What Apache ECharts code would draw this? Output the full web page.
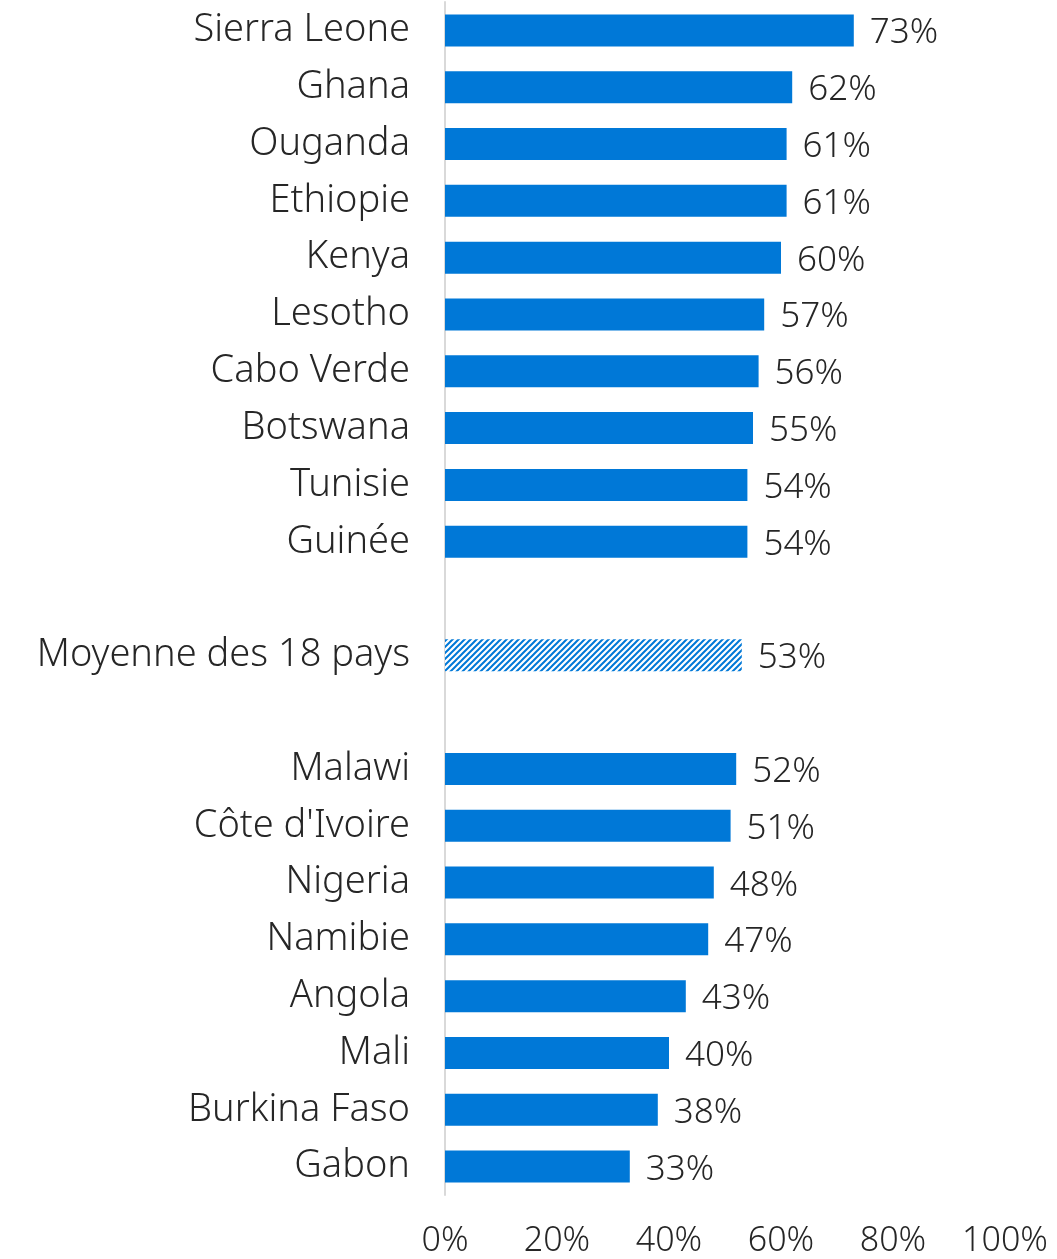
<!DOCTYPE html>
<html>
<head>
<meta charset="utf-8">
<script src="https://cdn.jsdelivr.net/npm/echarts@6/dist/echarts.min.js"></script>
<style>
  html, body { margin: 0; padding: 0; background: #fff; }
  #chart { width: 1057px; height: 1259px; }
</style>
</head>
<body>
<div id="chart"></div>
<script>
  // rows top to bottom; '' rows are the blank gaps around the average
  var countries = ['Sierra Leone', 'Ghana', 'Ouganda', 'Ethiopie', 'Kenya', 'Lesotho', 'Cabo Verde',
    'Botswana', 'Tunisie', 'Guinée', '', 'Moyenne des 18 pays', '', 'Malawi', "Côte d'Ivoire",
    'Nigeria', 'Namibie', 'Angola', 'Mali', 'Burkina Faso', 'Gabon'];
  var values = [73, 62, 61, 61, 60, 57, 56, 55, 54, 54, null, 53, null, 52, 51, 48, 47, 43, 40, 38, 33];
  var averageIndex = 11;
  var xTicks = [0, 20, 40, 60, 80, 100];

  var blue = '#0078d7';
  var textColor = '#262626';
  var fontFamily = 'Noto Sans';

  // diagonal stripe fill for the average bar
  function makeHatch() {
    var c = document.createElement('canvas');
    c.width = 6; c.height = 6;
    var ctx = c.getContext('2d');
    ctx.fillStyle = '#fff';
    ctx.fillRect(0, 0, 6, 6);
    ctx.strokeStyle = blue;
    ctx.lineWidth = 2;
    ctx.beginPath();
    ctx.moveTo(-1, 7); ctx.lineTo(7, -1);
    ctx.moveTo(-4, 4); ctx.lineTo(4, -4);
    ctx.moveTo(2, 10); ctx.lineTo(10, 2);
    ctx.stroke();
    return c;
  }
  var hatch = makeHatch();

  var barData = values.map(function (v, i) {
    if (v === null) return '-';
    if (i === averageIndex) {
      return { value: v, itemStyle: { color: { image: hatch, repeat: 'repeat' } } };
    }
    return v;
  });

  var chart = echarts.init(document.getElementById('chart'), null, { renderer: 'canvas' });
  chart.setOption({
    animation: false,
    grid: { left: 445, right: 52, top: 2, bottom: 64 },
    xAxis: {
      type: 'value',
      min: xTicks[0],
      max: xTicks[xTicks.length - 1],
      interval: 20,
      splitLine: { show: false },
      axisLine: { show: false },
      axisTick: { show: false },
      axisLabel: {
        formatter: '{value}%',
        color: textColor,
        fontFamily: fontFamily,
        fontWeight: 300,
        fontSize: 34,
        margin: 29
      }
    },
    yAxis: {
      type: 'category',
      data: countries,
      inverse: true,
      axisLine: { show: true, lineStyle: { color: '#d9d9d9', width: 2 } },
      axisTick: { show: false },
      axisLabel: {
        color: textColor,
        fontFamily: fontFamily,
        fontWeight: 300,
        fontSize: 38,
        margin: 35
      }
    },
    series: [{
      type: 'bar',
      data: barData,
      barWidth: 32,
      itemStyle: { color: blue },
      label: {
        show: true,
        position: 'right',
        distance: 16,
        formatter: '{c}%',
        color: textColor,
        fontFamily: fontFamily,
        fontWeight: 300,
        fontSize: 35,
        offset: [0, 3]
      }
    }]
  });
</script>
</body>
</html>
